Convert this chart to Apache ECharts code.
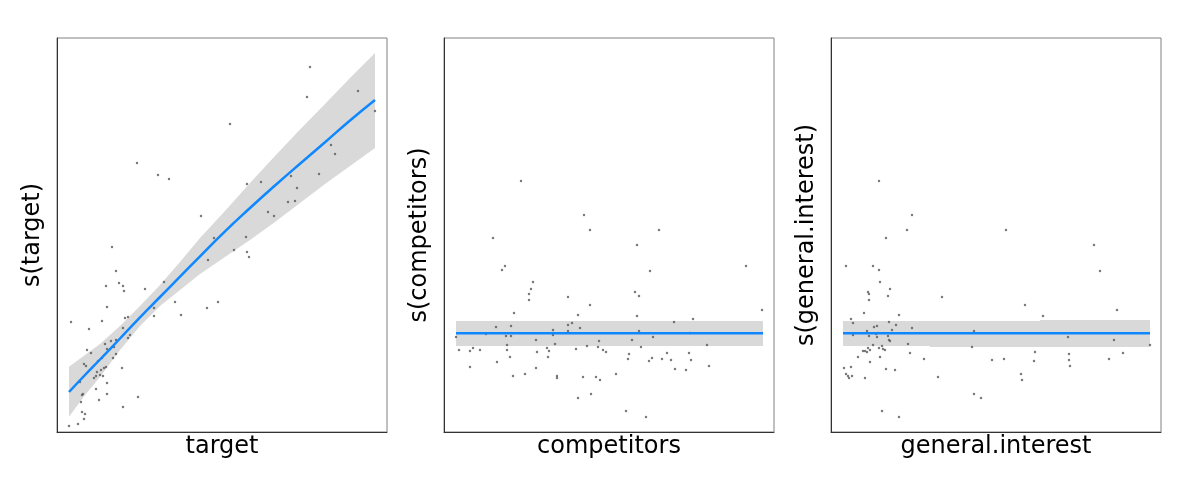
<!DOCTYPE html>
<html>
<head>
<meta charset="utf-8">
<script src="https://cdn.jsdelivr.net/npm/echarts@6/dist/echarts.min.js"></script>
<style>
  html, body { margin: 0; padding: 0; background: #fff; }
  #smooths { width: 1200px; height: 480px; }
</style>
</head>
<body>
<div id="smooths"></div>
<script>
// no tick labels in the source, so values are in plain panel units
// x: 0..330 across each panel, y: 0..394 up each panel

// --- s(target) ---
const targetX = [253, 250, 301, 318, 173, 80, 101, 112, 274, 278, 262, 234, 240, 190, 204, 231, 238, 211, 217, 144,
  157, 189, 177, 190, 192, 151, 55, 59, 62, 66, 49, 67, 88, 107, 118, 97, 97, 124, 150, 161,
  50, 45, 14, 32, 68, 71, 66, 73, 71, 54, 59, 48, 57, 50, 30, 34, 59, 45, 56, 41,
  27, 29, 49, 47, 44, 65, 40, 39, 43, 46, 37, 23, 50, 39, 26, 25, 50, 81, 24, 42,
  66, 25, 28, 27, 21, 12];
const targetY = [365, 335, 341, 321, 308, 269, 257, 253, 287, 278, 258, 256, 244, 248, 250, 230, 231, 220, 216, 216,
  194, 195, 182, 180, 175, 172, 185, 161, 149, 146, 146, 141, 143, 150, 130, 124, 116, 117, 124, 130,
  125, 111, 110, 103, 114, 115, 104, 97, 94, 91, 92, 88, 85, 83, 82, 79, 78, 74, 74, 71,
  68, 66, 65, 64, 62, 64, 60, 56, 57, 56, 54, 50, 49, 43, 38, 37, 38, 35, 30, 32,
  25, 20, 18, 13, 8, 6];
const targetFitX = [12, 28, 43, 63, 83, 103, 123, 143, 168, 193, 218, 243, 268, 293, 318];
const targetFit = [40, 57, 72.5, 93.5, 114.7, 135, 155.3, 175.7, 200.7, 224, 246.5, 268.3, 289.7, 311.5, 332];
const targetLo = [15.3, 37, 55, 82, 106, 126, 142, 158, 175, 192, 210, 229, 248, 266, 284];
const targetHi = [65.3, 77, 88, 106, 126, 147, 170, 194, 221, 249, 276, 302.5, 328, 354, 379];

// --- s(competitors) ---
const compX = [77, 140, 146, 215, 49, 193, 61, 58, 206, 302, 89, 87, 85, 85, 124, 191, 195, 146, 70, 134,
  193, 318, 249, 230, 128, 124, 52, 67, 136, 109, 124, 195, 42, 246, 109, 12, 62, 67, 209, 92,
  188, 155, 111, 143, 63, 263, 197, 154, 103, 29, 132, 15, 36, 26, 63, 159, 105, 162, 93, 185,
  223, 245, 104, 66, 184, 208, 218, 227, 247, 205, 53, 265, 26, 92, 231, 242, 69, 81, 113, 113,
  139, 152, 156, 172, 134, 147, 182, 202];
const compY = [251, 217, 202, 202, 194, 187, 166, 162, 161, 166, 150, 143, 138, 132, 135, 140, 136, 127, 119, 117,
  116, 122, 113, 110, 109, 107, 105, 106, 104, 102, 101, 101, 98, 99, 97, 95, 96, 96, 95, 92,
  92, 91, 88, 86, 87, 87, 85, 85, 84, 84, 83, 82, 82, 81, 82, 82, 81, 80, 80, 78,
  79, 79, 75, 75, 73, 74, 73, 72, 72, 71, 70, 66, 65, 64, 63, 62, 56, 58, 56, 54,
  55, 55, 52, 58, 34, 38, 21, 15];
const compFitX = [12, 319];
const compFit = [98.7, 98.7];
const compLo = [86, 86];
const compHi = [111, 111];

// --- s(general.interest) ---
const interestX = [48, 81, 76, 175, 55, 263, 15, 42, 48, 269, 49, 59, 37, 38, 57, 38, 111, 194, 33, 68,
  212, 286, 20, 22, 58, 65, 43, 46, 81, 36, 61, 143, 47, 45, 22, 38, 46, 57, 237, 58,
  59, 283, 77, 42, 51, 141, 319, 37, 48, 52, 54, 39, 32, 34, 36, 79, 204, 238, 292, 27,
  49, 93, 173, 161, 238, 278, 203, 39, 239, 13, 20, 55, 64, 15, 17, 18, 21, 34, 107, 190,
  191, 143, 150, 51, 68];
const interestY = [251, 217, 202, 202, 194, 187, 166, 166, 162, 161, 150, 143, 140, 138, 136, 132, 135, 127, 119, 117,
  116, 122, 113, 109, 110, 107, 105, 106, 104, 101, 102, 101, 99, 98, 97, 96, 95, 96, 95, 92,
  91, 92, 88, 87, 86, 85, 87, 84, 84, 83, 82, 82, 81, 81, 80, 79, 80, 78, 79, 75,
  75, 73, 73, 72, 72, 73, 71, 70, 66, 64, 65, 63, 62, 58, 56, 54, 56, 54, 55, 58,
  52, 38, 34, 21, 15];
const interestFitX = [12, 99, 99, 209, 209, 319];
const interestFit = [98.7, 98.7, 98.7, 98.7, 98.7, 98.7];
const interestLo = [86, 86, 85, 85, 85, 85];
const interestHi = [111, 111, 111, 111, 112, 112];

const panels = [
  { xName: 'target', yName: 's(target)', xs: targetX, ys: targetY, fx: targetFitX, fit: targetFit, lo: targetLo, hi: targetHi },
  { xName: 'competitors', yName: 's(competitors)', xs: compX, ys: compY, fx: compFitX, fit: compFit, lo: compLo, hi: compHi },
  { xName: 'general.interest', yName: 's(general.interest)', xs: interestX, ys: interestY, fx: interestFitX, fit: interestFit, lo: interestLo, hi: interestHi }
];
const lefts = [57, 444, 831];

const font = 'DejaVu Sans';
const grid = [], xAxis = [], yAxis = [], series = [];

panels.forEach(function (p, i) {
  grid.push({
    left: lefts[i], top: 38, width: 330, height: 394,
    show: true, borderColor: '#808080', borderWidth: 1, backgroundColor: 'transparent'
  });
  xAxis.push({
    gridIndex: i, type: 'value', min: 0, max: 330,
    name: p.xName, nameLocation: 'middle', nameGap: 3,
    nameTextStyle: { fontFamily: font, fontSize: 24, color: '#000' },
    axisLine: { show: true, onZero: false, lineStyle: { color: '#333', width: 1 } },
    axisTick: { show: false }, axisLabel: { show: false }, splitLine: { show: false }
  });
  yAxis.push({
    gridIndex: i, type: 'value', min: 0, max: 394,
    name: p.yName, nameLocation: 'middle', nameGap: 12,
    nameTextStyle: { fontFamily: font, fontSize: 24, color: '#000' },
    axisLine: { show: true, onZero: false, lineStyle: { color: '#333', width: 1 } },
    axisTick: { show: false }, axisLabel: { show: false }, splitLine: { show: false }
  });

  // confidence band as one polygon: upper edge forward, lower edge back
  series.push({
    type: 'custom', xAxisIndex: i, yAxisIndex: i, silent: true, z: 1,
    data: [[p.fx[0], p.lo[0]]],
    renderItem: function (params, api) {
      const pts = [];
      for (let k = 0; k < p.fx.length; k++) pts.push(api.coord([p.fx[k], p.hi[k]]));
      for (let k = p.fx.length - 1; k >= 0; k--) pts.push(api.coord([p.fx[k], p.lo[k]]));
      return { type: 'polygon', shape: { points: pts }, style: { fill: '#d9d9d9' } };
    }
  });
  series.push({
    type: 'scatter', xAxisIndex: i, yAxisIndex: i,
    data: p.xs.map(function (x, k) { return [x, p.ys[k]]; }),
    symbolSize: 2.5, itemStyle: { color: '#5a5a5a' }, z: 2
  });
  series.push({
    type: 'line', xAxisIndex: i, yAxisIndex: i,
    data: p.fx.map(function (x, k) { return [x, p.fit[k]]; }),
    symbol: 'none', smooth: i === 0,
    lineStyle: { color: '#0f88ff', width: 2.5 }, z: 3
  });
});

const myChart = echarts.init(document.getElementById('smooths'), null, { renderer: 'canvas' });
myChart.setOption({
  animation: false,
  backgroundColor: '#fff',
  grid: grid,
  xAxis: xAxis,
  yAxis: yAxis,
  series: series
});
</script>
</body>
</html>
